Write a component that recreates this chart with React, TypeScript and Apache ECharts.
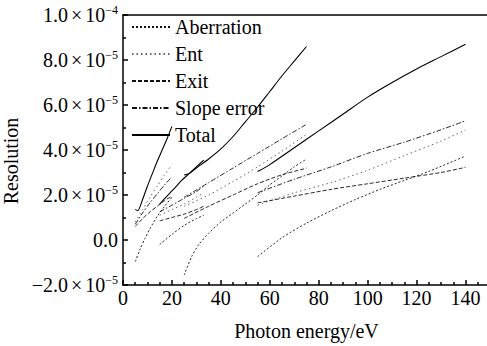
import React, { useEffect, useRef } from "react";
import * as echarts from "echarts";

// Values are in units of 1e-5 (resolution); x is photon energy in eV.
const SCALE = 1e-5;

const legendNames = ["Aberration", "Ent", "Exit", "Slope error", "Total"];

// Range A: 5 - 20 eV
const aberrationA = [[5, -0.96], [7, -0.4], [9, 0.07], [11, 0.5], [14, 1.05], [17, 1.5], [20, 1.9]];
const entA = [[5, 0.8], [8, 1.35], [11, 1.9], [14, 2.4], [17, 2.9], [20, 3.35]];
const exitA = [[5, 0.6], [8, 0.95], [11, 1.25], [14, 1.5], [17, 1.75], [20, 1.95]];
const slopeA = [[5, 0.7], [8, 1.2], [11, 1.65], [14, 2.05], [17, 2.45], [20, 2.8]];
const totalA = [[5, 1.36], [6, 1.3], [8, 1.8], [10, 2.4], [12, 2.95], [14, 3.5], [16, 4.0], [18, 4.5], [20, 5.05]];

// Range B: 15 - 33 eV
const aberrationB = [[15, -0.2], [20, 0.25], [25, 0.65], [30, 0.95], [33, 1.1]];
const entB = [[15, 1.1], [20, 1.35], [25, 1.6], [30, 1.9], [33, 2.1]];
const exitB = [[15, 0.85], [20, 1.0], [25, 1.15], [30, 1.35], [33, 1.5]];
const slopeB = [[15, 1.25], [20, 1.55], [25, 1.85], [30, 2.15], [33, 2.4]];
const totalB = [[15, 1.6], [18, 1.95], [21, 2.3], [24, 2.65], [27, 2.95], [30, 3.25], [33, 3.55]];

// Range C: 25 - 75 eV
const aberrationC = [[25, -1.56], [28, -0.75], [31, -0.2], [35, 0.3], [40, 0.8], [45, 1.2], [50, 1.6], [55, 2.0], [60, 2.45], [65, 2.85], [70, 3.25], [75, 3.6]];
const entC = [[25, 1.5], [35, 2.0], [45, 2.6], [55, 3.25], [65, 3.95], [75, 4.7]];
const exitC = [[25, 0.96], [35, 1.5], [45, 2.0], [55, 2.5], [65, 2.9], [75, 3.19]];
const slopeC = [[25, 1.9], [35, 2.55], [45, 3.2], [55, 3.85], [65, 4.5], [75, 5.14]];
const totalC = [[25, 2.89], [27, 2.95], [30, 3.2], [35, 3.6], [40, 4.05], [45, 4.6], [50, 5.25], [55, 5.9], [60, 6.6], [65, 7.3], [70, 7.95], [75, 8.6]];

// Range D: 55 - 140 eV
const aberrationD = [[55, -0.74], [65, 0.1], [75, 0.75], [85, 1.3], [95, 1.8], [105, 2.25], [115, 2.65], [125, 3.05], [140, 3.73]];
const entD = [[55, 1.55], [70, 2.1], [85, 2.55], [100, 3.1], [115, 3.75], [130, 4.4], [140, 4.89]];
const exitD = [[55, 1.65], [70, 1.95], [85, 2.25], [100, 2.5], [115, 2.75], [130, 3.0], [140, 3.23]];
const slopeD = [[55, 2.1], [70, 2.7], [85, 3.25], [100, 3.85], [115, 4.35], [130, 4.9], [140, 5.3]];
const totalD = [[55, 3.04], [60, 3.35], [70, 4.1], [80, 4.85], [90, 5.6], [100, 6.35], [110, 7.0], [120, 7.6], [130, 8.15], [140, 8.7]];

const groups: Record<string, number[][][]> = {
  Aberration: [aberrationA, aberrationB, aberrationC, aberrationD],
  Ent: [entA, entB, entC, entD],
  Exit: [exitA, exitB, exitC, exitD],
  "Slope error": [slopeA, slopeB, slopeC, slopeD],
  Total: [totalA, totalB, totalC, totalD],
};

const lineStyles: Record<string, any> = {
  Aberration: { color: "#111", width: 0.9, type: [2, 2] },
  Ent: { color: "#666", width: 1, type: [1.5, 3] },
  Exit: { color: "#111", width: 0.9, type: [4, 2] },
  "Slope error": { color: "#111", width: 0.9, type: [5, 2, 1.5, 2] },
  Total: { color: "#000", width: 1.1, type: "solid" },
};

const FONT = "Liberation Serif";

export default function App() {
  const ref = useRef<HTMLDivElement>(null);
  useEffect(() => {
    if (!ref.current) return;
    const chart = echarts.init(ref.current, null, { renderer: "svg" });
    const series: any[] = [];
    legendNames.forEach((name) => {
      groups[name].forEach((arr) => {
        series.push({
          name,
          type: "line",
          data: arr.map(([x, y]) => [x, y * SCALE]),
          symbol: "none",
          showSymbol: false,
          smooth: 0.25,
          lineStyle: lineStyles[name],
          itemStyle: { color: lineStyles[name].color },
          emphasis: { disabled: true },
          z: 3,
        });
      });
    });
    const fmtY = (v: number) => {
      const m = Math.round((v / SCALE) * 10) / 10;
      if (Math.abs(m) < 1e-9) return "{m|0.0}";
      if (Math.abs(m - 10) < 1e-9) return "{m|1.0}{x|×}{m|10}{s|−4}";
      const sign = m < 0 ? "−" : "";
      return `{m|${sign}${Math.abs(m).toFixed(1)}}{x|×}{m|10}{s|−5}`;
    };
    chart.setOption({
      animation: false,
      textStyle: { fontFamily: FONT, color: "#000" },
      grid: { left: 123, top: 15, right: -3, bottom: 61, containLabel: false, outerBoundsMode: "none" },
      legend: {
        data: legendNames,
        orient: "vertical",
        left: 131,
        top: 17,
        itemWidth: 38,
        itemHeight: 14,
        itemGap: 7,
        padding: 0,
        itemStyle: { color: "rgba(0,0,0,0)", borderWidth: 0, opacity: 0 },
        textStyle: { fontFamily: FONT, fontSize: 20, color: "#000" },
        selectedMode: false,
      },
      xAxis: [
        {
          type: "value",
          min: 0,
          max: 150,
          interval: 20,
          name: "Photon energy/eV",
          nameLocation: "middle",
          nameGap: 36,
          nameTextStyle: { fontFamily: FONT, fontSize: 20, color: "#000" },
          axisLine: { show: true, onZero: false, lineStyle: { color: "#000", width: 1.5 } },
          axisTick: { show: true, inside: true, length: 5, lineStyle: { color: "#000", width: 1.5 } },
          minorTick: { show: true, splitNumber: 4, length: 3, lineStyle: { color: "#000", width: 1.5 } },
          axisLabel: {
            fontFamily: FONT,
            fontSize: 20,
            color: "#000",
            margin: 3,
            formatter: (v: number) => (v > 140 ? "" : String(v)),
          },
          splitLine: { show: false },
        },
        {
          type: "value",
          position: "top",
          min: 0,
          max: 150,
          axisLine: { show: true, onZero: false, lineStyle: { color: "#000", width: 1.5 } },
          axisTick: { show: false },
          axisLabel: { show: false },
          splitLine: { show: false },
        },
      ],
      yAxis: {
        type: "value",
        min: -2 * SCALE,
        max: 10 * SCALE,
        interval: 2 * SCALE,
        name: "Resolution",
        nameLocation: "middle",
        nameGap: 97,
        nameTextStyle: { fontFamily: FONT, fontSize: 20, color: "#000", padding: [0, 22, 0, 0] },
        axisLine: { show: true, onZero: false, lineStyle: { color: "#000", width: 1.5 } },
        axisTick: { show: true, inside: true, length: 5, lineStyle: { color: "#000", width: 1.5 } },
        minorTick: { show: true, splitNumber: 2, length: 3, lineStyle: { color: "#000", width: 1.5 } },
        splitLine: { show: false },
        axisLabel: {
          margin: 5,
          formatter: fmtY,
          rich: {
            m: { fontFamily: FONT, fontSize: 20, color: "#000" },
            x: { fontFamily: FONT, fontSize: 20, color: "#000", padding: [0, 3, 0, 3] },
            s: { fontFamily: FONT, fontSize: 12, color: "#000", padding: [0, 0, 11, 0] },
          },
        },
      },
      series,
    });
    return () => chart.dispose();
  }, []);
  return <div ref={ref} style={{ width: 487, height: 346, position: "absolute", left: 0, top: 0 }} />;
}
